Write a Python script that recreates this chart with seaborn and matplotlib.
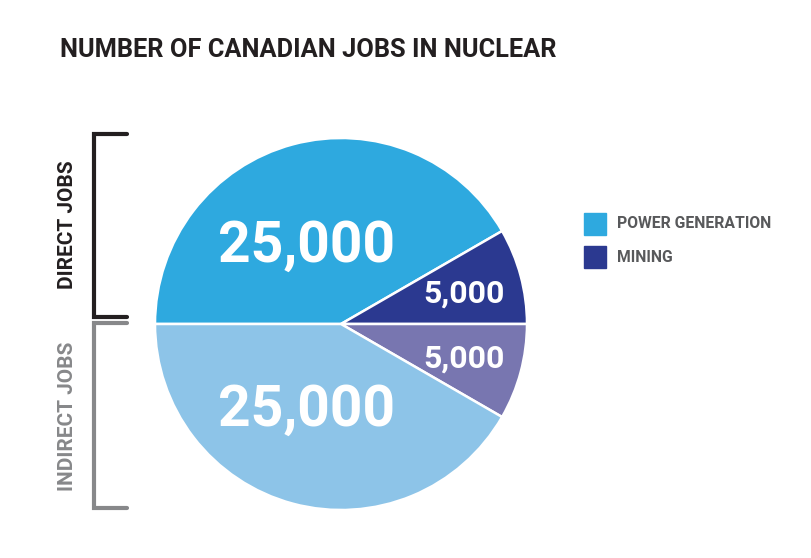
import matplotlib
matplotlib.use("Agg")
import matplotlib.pyplot as plt
from matplotlib import font_manager
import seaborn as sns

# ---- data ----
categories = ["Power Generation", "Mining"]
direct_jobs = [25000, 5000]
indirect_jobs = [25000, 5000]
value_labels = ["25,000", "5,000", "5,000", "25,000"]
group_labels = ["DIRECT JOBS", "INDIRECT JOBS"]
title = "NUMBER OF CANADIAN JOBS IN NUCLEAR"

colors_direct = ["#2EA9DF", "#2B3990"]
colors_indirect = ["#8DC4E8", "#7876B0"]

sns.set_theme(style="white")
available = {f.name for f in font_manager.fontManager.ttflist}
font = "Roboto"
for cand in ["Liberation Sans Narrow", "Roboto", "DejaVu Sans"]:
    if cand in available:
        font = cand
        break
plt.rcParams["font.family"] = [font, "DejaVu Sans"]

W, H = 812, 558
fig = plt.figure(figsize=(W / 100, H / 100), dpi=100)
fig.patch.set_facecolor("white")

def fx(x):
    return x / W

def fy(y):
    return 1 - y / H

# pie axes: centre (341, 324), radius 186 px
cx, cy, r = 341, 324, 186
ax = fig.add_axes([fx(cx - r), fy(cy + r), 2 * r / W, 2 * r / H])
values = [direct_jobs[0], direct_jobs[1], indirect_jobs[1], indirect_jobs[0]]
colors = [colors_direct[0], colors_direct[1], colors_indirect[1], colors_indirect[0]]
wedges, _ = ax.pie(values, colors=colors, startangle=180, counterclock=False,
                   radius=1.0, wedgeprops=dict(edgecolor="white", linewidth=1.8))
ax.set_xlim(-1, 1)
ax.set_ylim(-1, 1)
ax.set_aspect("equal")
ax.axis("off")

# value labels (positions in px)
lab_pos = [(307, 246, 41), (464, 294, 23), (464, 359, 23), (307, 410, 41)]
for (x, y, s), txt in zip(lab_pos, value_labels):
    fig.text(fx(x), fy(y), txt, color="white", fontsize=s, fontweight="bold",
             ha="center", va="center")

# title
fig.text(fx(60), fy(50), title, fontsize=18.3, fontweight="bold", color="#231F20",
         ha="left", va="center")

# legend
leg_items = [(categories[0].upper(), colors_direct[0], 224),
             (categories[1].upper(), colors_direct[1], 257)]
for txt, col, y in leg_items:
    fig.patches.append(plt.Rectangle((fx(584), fy(y + 11)), 22 / W, 22 / H,
                                     transform=fig.transFigure, color=col))
    fig.text(fx(617), fy(y), txt, fontsize=11.3, fontweight="bold", color="#58595B",
             ha="left", va="center")

# brackets
def bracket(y0, y1, col):
    xs = [fx(127), fx(94), fx(94), fx(127)]
    ys = [fy(y0), fy(y0), fy(y1), fy(y1)]
    fig.add_artist(plt.Line2D(xs, ys, color=col, linewidth=3,
                              transform=fig.transFigure, solid_joinstyle="miter"))

bracket(134, 317, "#231F20")
bracket(323, 508, "#87888A")

fig.text(fx(68), fy(225), group_labels[0], rotation=90, fontsize=15,
         fontweight="bold", color="#231F20", ha="center", va="center")
fig.text(fx(68), fy(416), group_labels[1], rotation=90, fontsize=15,
         fontweight="bold", color="#87888A", ha="center", va="center")

fig.savefig("out.png", dpi=100, facecolor="white")
